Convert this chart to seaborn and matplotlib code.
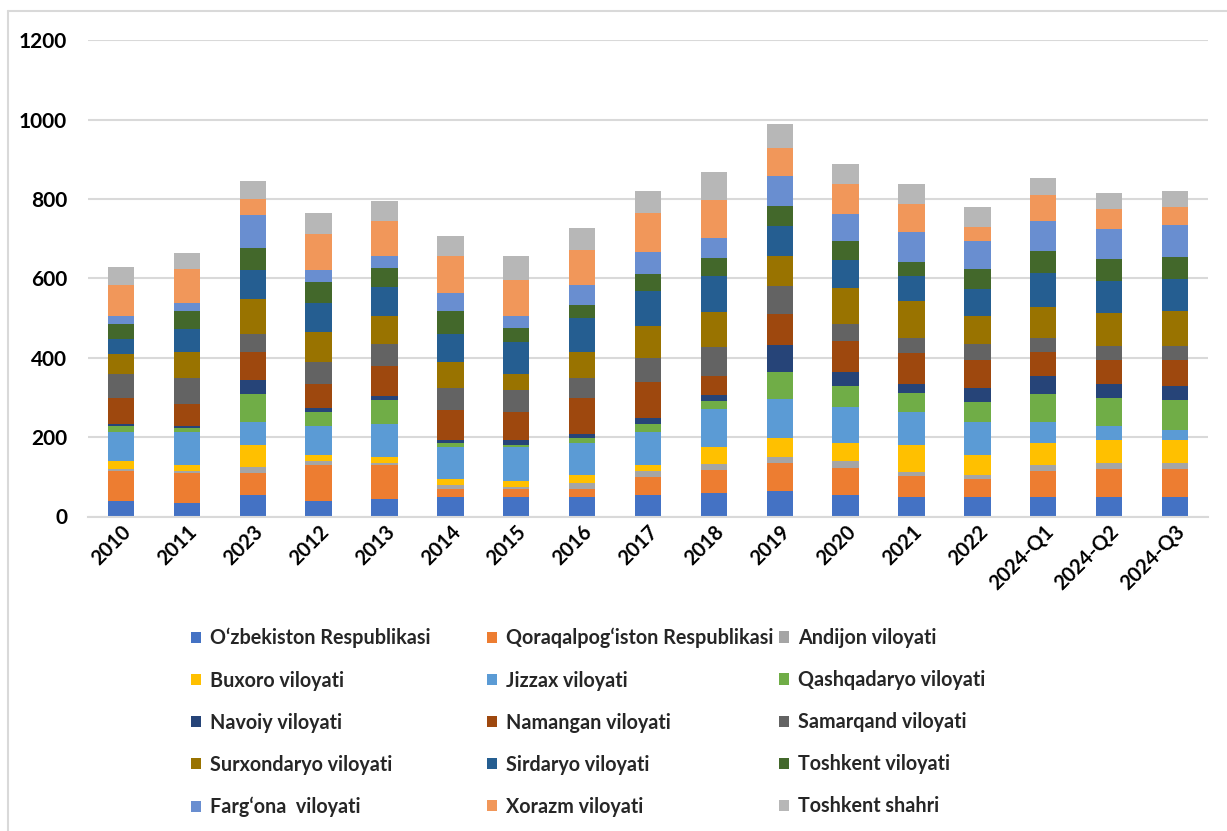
import numpy as np
import pandas as pd
import matplotlib
matplotlib.use("Agg")
import matplotlib.pyplot as plt
from matplotlib.patches import Patch
from matplotlib.lines import Line2D
import seaborn as sns

categories = ["2010", "2011", "2023", "2012", "2013", "2014", "2015", "2016", "2017",
              "2018", "2019", "2020", "2021", "2022", "2024-Q1", "2024-Q2", "2024-Q3"]

series_names = [
    "O‘zbekiston Respublikasi", "Qoraqalpog‘iston Respublikasi", "Andijon viloyati",
    "Buxoro viloyati", "Jizzax viloyati", "Qashqadaryo viloyati",
    "Navoiy viloyati", "Namangan viloyati", "Samarqand viloyati",
    "Surxondaryo viloyati", "Sirdaryo viloyati", "Toshkent viloyati",
    "Farg‘ona  viloyati", "Xorazm viloyati", "Toshkent shahri",
]

uzbekiston = [39, 34, 54, 39, 44, 49, 49, 49, 54, 58, 63, 53, 48, 49, 49, 49, 49]
qoraqalpogiston = [75, 75, 55, 90, 85, 20, 20, 20, 45, 60, 71, 70, 55, 45, 65, 70, 70]
andijon = [5, 5, 15, 10, 5, 10, 5, 15, 15, 15, 15, 16, 10, 10, 15, 15, 15]
buxoro = [20, 15, 55, 15, 15, 15, 15, 20, 15, 41, 50, 45, 66, 50, 55, 60, 60]
jizzax = [74, 84, 60, 75, 85, 80, 85, 80, 85, 96, 96, 91, 85, 85, 55, 35, 25]
qashqadaryo = [16, 11, 70, 35, 60, 10, 5, 15, 20, 20, 70, 55, 46, 50, 70, 70, 75]
navoiy = [5, 5, 35, 10, 10, 10, 15, 10, 15, 15, 66, 35, 25, 35, 45, 35, 35]
namangan = [65, 55, 70, 60, 75, 75, 70, 90, 90, 50, 80, 76, 76, 70, 60, 60, 65]
samarqand = [60, 65, 45, 55, 55, 55, 55, 50, 60, 71, 71, 45, 40, 40, 35, 35, 35]
surxondaryo = [50, 65, 90, 75, 70, 65, 40, 65, 80, 90, 75, 91, 91, 70, 80, 85, 90]
sirdaryo = [39, 59, 71, 75, 75, 70, 80, 85, 90, 90, 76, 70, 65, 70, 85, 80, 80]
toshkent_vil = [36, 46, 57, 51, 46, 60, 35, 35, 41, 46, 50, 46, 35, 50, 55, 55, 55]
fargona = [20, 20, 82, 30, 31, 45, 30, 50, 57, 51, 76, 70, 76, 70, 75, 75, 80]
xorazm = [79, 84, 41, 93, 88, 92, 91, 88, 97, 95, 70, 76, 70, 35, 65, 50, 45]
toshkent_sh = [46, 41, 46, 51, 51, 52, 61, 56, 56, 71, 61, 50, 51, 50, 45, 40, 40]

series_values = [uzbekiston, qoraqalpogiston, andijon, buxoro, jizzax, qashqadaryo,
                 navoiy, namangan, samarqand, surxondaryo, sirdaryo, toshkent_vil,
                 fargona, xorazm, toshkent_sh]

colors = ["#4472C4", "#ED7D31", "#A5A5A5", "#FFC000", "#5B9BD5", "#70AD47",
          "#264478", "#9E480E", "#636363", "#997300", "#255E91", "#43682B",
          "#698ED0", "#F1975A", "#B7B7B7"]

sns.set_style("white")
plt.rcParams["font.family"] = ["Lato", "DejaVu Sans"]
plt.rcParams["font.weight"] = "bold"

W, H = 1227, 831
fig = plt.figure(figsize=(W / 100, H / 100), dpi=100)
ax = fig.add_axes([88 / W, 1 - 516.5 / H, (1208 - 88) / W, (516.5 - 40.3) / H])

bottom = np.zeros(len(categories))
for name, vals, col in zip(series_names, series_values, colors):
    df = pd.DataFrame({"cat": categories, "val": vals})
    sns.barplot(data=df, x="cat", y="val", order=categories, color=col,
                width=0.4, bottom=bottom, errorbar=None, ax=ax,
                linewidth=0, saturation=1)
    bottom = bottom + np.array(vals)

ax.set_xlim(-0.5, len(categories) - 0.5)
ax.set_ylim(0, 1200)
ax.set_yticks(range(0, 1201, 200))
ax.yaxis.grid(True, color="#D9D9D9", linewidth=1.5)
ax.set_axisbelow(True)
for s in ["left", "right", "top"]:
    ax.spines[s].set_visible(False)
ax.spines["bottom"].set_color("#D9D9D9")
ax.spines["bottom"].set_linewidth(1.5)
ax.set_xlabel("")
ax.set_ylabel("")

ax.tick_params(axis="y", length=0, pad=15, labelsize=15, labelcolor="black")
ax.tick_params(axis="x", which="major", length=0, pad=4, labelsize=14.5, labelcolor="black")
ax.set_xticks(np.arange(-0.5, len(categories), 1), minor=True)
ax.tick_params(axis="x", which="minor", length=5, width=1.5, color="#D9D9D9", direction="out")
for lab in ax.get_yticklabels():
    lab.set_fontweight("bold")
ax.set_xticks(range(len(categories)))
ax.set_xticklabels(categories, rotation=45, ha="right", rotation_mode="anchor",
                   fontweight="bold")

# legends: three columns
col_x = [191, 487, 779]
for c in range(3):
    idx = [c + 3 * r for r in range(5)]
    handles = [Patch(facecolor=colors[i], edgecolor="none") for i in idx]
    labels = [series_names[i] for i in idx]
    fig.legend(handles, labels, loc="upper left",
               bbox_to_anchor=(col_x[c] / W, 1 - 628 / H),
               bbox_transform=fig.transFigure, frameon=False, ncol=1,
               borderpad=0, borderaxespad=0, handlelength=0.5, handleheight=0.5,
               handletextpad=0.45, labelspacing=1.12,
               prop={"family": ["Lato", "DejaVu Sans"], "weight": "bold", "size": 14.2})

# chart frame
fig.add_artist(Line2D([8 / W, 1], [1 - 10.5 / H, 1 - 10.5 / H], color="#D9D9D9",
                      linewidth=1.5, transform=fig.transFigure))
fig.add_artist(Line2D([8 / W, 8 / W], [0, 1 - 10.5 / H], color="#D9D9D9",
                      linewidth=1.5, transform=fig.transFigure))

fig.savefig("out.png", dpi=100)
